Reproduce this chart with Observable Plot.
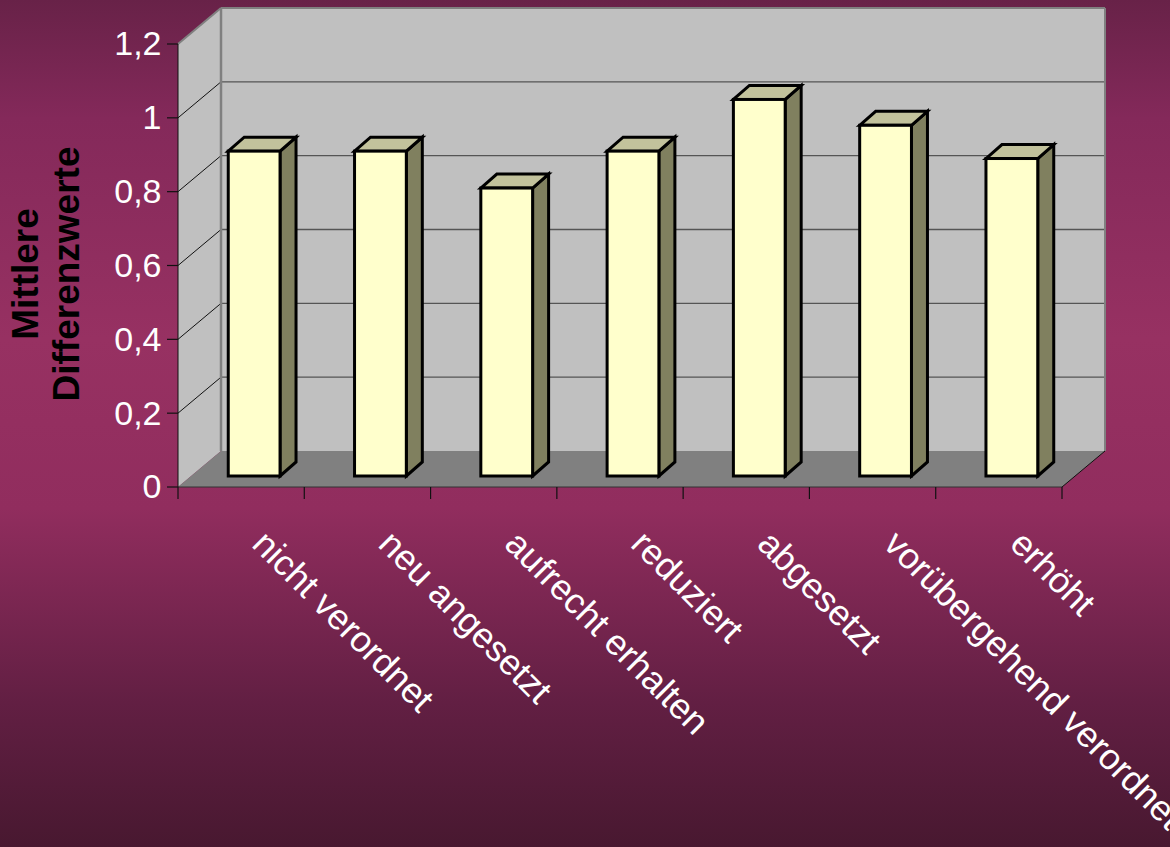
<!DOCTYPE html>
<html>
<head>
<meta charset="utf-8">
<script src="https://cdn.jsdelivr.net/npm/d3@7"></script>
<script src="https://cdn.jsdelivr.net/npm/@observablehq/plot@0.6"></script>
<style>
html, body { margin: 0; padding: 0; }
body {
  width: 1170px; height: 847px; overflow: hidden;
  background: linear-gradient(to bottom, #682248 0%, #84295a 14%, #973162 40%, #912d5e 60%, #621f43 83%, #481830 100%);
}
#chart svg { display: block; }
</style>
</head>
<body>
<div id="chart"></div>
<script>
// ---- data ----
const categories = ["nicht verordnet", "neu angesetzt", "aufrecht erhalten", "reduziert", "abgesetzt", "vorübergehend verordnet", "erhöht"];
const values = [0.88, 0.88, 0.78, 0.88, 1.02, 0.95, 0.86];
const yTicks = [0, 0.2, 0.4, 0.6, 0.8, 1.0, 1.2];
const yTickLabels = ["0", "0,2", "0,4", "0,6", "0,8", "1", "1,2"];
const yTitle = "Mittlere\nDifferenzwerte";

// ---- 3D projection styling (pixel offsets) ----
const WALL = [43, -36];
const BAR_FRONT = [13, -11];
const BAR_BACK = [29, -25];
const BAR_HALF = 0.205;
const FONT = "'Liberation Sans', Arial, sans-serif";

const bars = categories.map((c, i) => ({c, i, v: values[i], x1: i + 0.5 - BAR_HALF, x2: i + 0.5 + BAR_HALF}));

function poly(g, pts, fill, stroke, sw) {
  g.append("path")
    .attr("d", "M" + pts.map(p => p.join(",")).join("L") + "Z")
    .attr("fill", fill)
    .attr("stroke", stroke || "none")
    .attr("stroke-width", sw || 0)
    .attr("stroke-linejoin", "miter");
}
function seg(g, a, b, stroke, sw) {
  g.append("line").attr("x1", a[0]).attr("y1", a[1]).attr("x2", b[0]).attr("y2", b[1])
    .attr("stroke", stroke).attr("stroke-width", sw);
}

function wallsMark(index, scales) {
  const {x, y} = scales;
  const g = d3.create("svg:g");
  const X0 = x(0), X1 = x(categories.length), Y0 = y(0), YT = y(yTicks[yTicks.length - 1]);
  const [dx, dy] = WALL;
  // back wall
  poly(g, [[X0 + dx, YT + dy], [X1 + dx, YT + dy], [X1 + dx, Y0 + dy], [X0 + dx, Y0 + dy]], "#c0c0c0");
  // left wall
  poly(g, [[X0, YT], [X0 + dx, YT + dy], [X0 + dx, Y0 + dy], [X0, Y0]], "#c0c0c0");
  // gridlines
  for (const t of yTicks) {
    if (t === 0 || t === yTicks[yTicks.length - 1]) continue;
    seg(g, [X0 + dx, y(t) + dy], [X1 + dx, y(t) + dy], "#555555", 1.3);
    seg(g, [X0, y(t)], [X0 + dx, y(t) + dy], "#111111", 1);
  }
  // wall borders
  seg(g, [X0 + dx, YT + dy], [X1 + dx, YT + dy], "#808080", 2);
  seg(g, [X0, YT], [X0 + dx, YT + dy], "#808080", 2);
  seg(g, [X0 + dx, YT + dy], [X0 + dx, Y0 + dy], "#808080", 2.5);
  seg(g, [X1 + dx, YT + dy], [X1 + dx, Y0 + dy], "#808080", 2);
  // floor
  poly(g, [[X0, Y0], [X1, Y0], [X1 + dx, Y0 + dy], [X0 + dx, Y0 + dy]], "#808080");
  seg(g, [X1, Y0], [X1 + dx, Y0 + dy], "#111111", 1);
  seg(g, [X0, Y0], [X1, Y0], "#333333", 1);
  // front vertical axis
  seg(g, [X0, YT], [X0, Y0], "#111111", 1);
  // y ticks
  for (const t of yTicks) seg(g, [X0 - 11, y(t)], [X0, y(t)], "#111111", 1.2);
  // category ticks
  for (let i = 0; i <= categories.length; i++) seg(g, [x(i), Y0], [x(i), Y0 + 12], "#111111", 1.2);
  return g.node();
}

function barSidesMark(index, scales) {
  const {x, y} = scales;
  const g = d3.create("svg:g");
  const ddx = BAR_BACK[0] - BAR_FRONT[0], ddy = BAR_BACK[1] - BAR_FRONT[1];
  for (const b of bars) {
    const px1 = x(b.x1) + BAR_FRONT[0], px2 = x(b.x2) + BAR_FRONT[0];
    const pyb = y(0) + BAR_FRONT[1], pyt = y(b.v) + BAR_FRONT[1];
    poly(g, [[px2, pyb], [px2 + ddx, pyb + ddy], [px2 + ddx, pyt + ddy], [px2, pyt]], "#80805f", "#000", 3);
    poly(g, [[px1, pyt], [px1 + ddx, pyt + ddy], [px2 + ddx, pyt + ddy], [px2, pyt]], "#c2c29c", "#000", 3);
  }
  return g.node();
}

const chart = Plot.plot({
  width: 1170,
  height: 847,
  marginLeft: 178,
  marginRight: 108,
  marginTop: 44,
  marginBottom: 360,
  style: {background: "transparent", overflow: "visible"},
  x: {domain: [0, categories.length], axis: null},
  y: {domain: [0, yTicks[yTicks.length - 1]], axis: null},
  marks: [
    wallsMark,
    barSidesMark,
    Plot.rect(bars, {x1: "x1", x2: "x2", y1: 0, y2: "v", dx: BAR_FRONT[0], dy: BAR_FRONT[1], fill: "#ffffcc", stroke: "#000", strokeWidth: 3}),
    Plot.text(yTicks, {x: 0, y: d => d, text: (d, i) => yTickLabels[i], textAnchor: "end", dx: -17, fill: "white", fontSize: 34, fontFamily: FONT}),
    Plot.text(bars, {x: d => d.i + 0.5, y: 0, text: "c", rotate: 45, textAnchor: "start", dx: 17, dy: 50, fill: "white", fontSize: 36, fontFamily: FONT}),
    Plot.text([yTitle], {frameAnchor: "left", textAnchor: "middle", text: d => d, rotate: -90, dx: -133, dy: 8, lineHeight: 1.1, fill: "black", fontWeight: "bold", fontSize: 37, fontFamily: FONT})
  ]
});
document.getElementById("chart").appendChild(chart);
</script>
</body>
</html>
